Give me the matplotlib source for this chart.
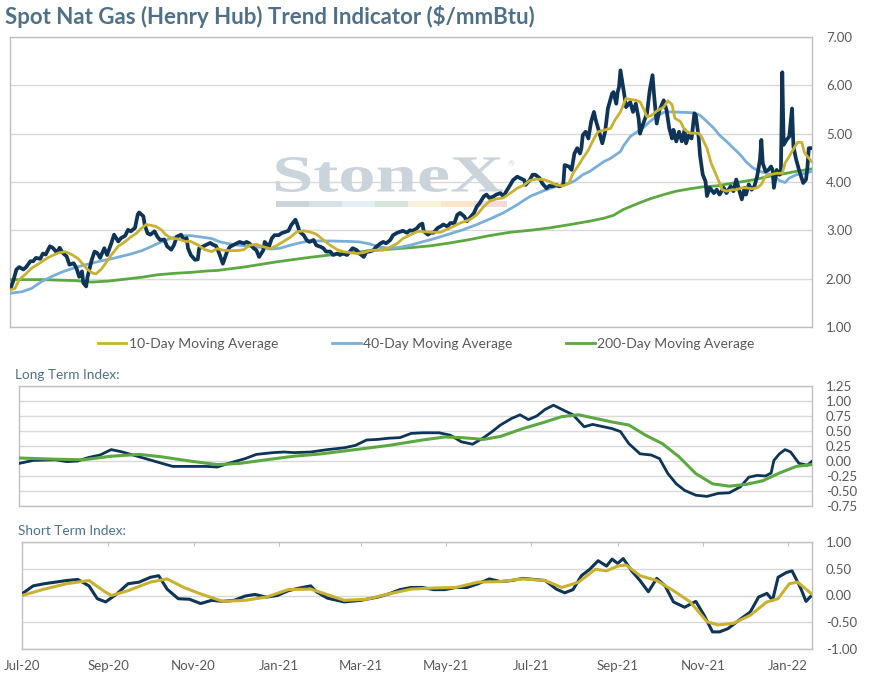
import numpy as np
import matplotlib
matplotlib.use("Agg")
import matplotlib.pyplot as plt
import matplotlib.dates as mdates
from matplotlib.patches import Rectangle, PathPatch
from matplotlib.textpath import TextPath
from matplotlib.font_manager import FontProperties
from matplotlib.transforms import Affine2D

plt.rcParams['font.family'] = ['Lato', 'DejaVu Sans']

# ---- data: x values are days since 2020-07-01 ----
spot_day = [-8, -6, -4, -2, 1, 3, 6, 8, 10, 13, 15, 17, 20, 22, 25, 27, 29, 32, 34, 37, 39, 41, 43, 44, 46, 47,
            50, 52, 54, 56, 59, 61, 64, 66, 69, 71, 74, 76, 78, 81, 83, 84, 87, 88, 90, 92, 95, 97, 99, 102,
            104, 107, 109, 111, 114, 116, 118, 119, 121, 124, 126, 127, 130, 132, 135, 137, 139, 141, 144, 147,
            149, 154, 156, 159, 161, 163, 166, 168, 170, 173, 174, 177, 179, 181, 184, 186, 189, 191, 193, 196,
            197, 199, 202, 204, 206, 209, 211, 214, 216, 218, 221, 223, 226, 228, 230, 233, 235, 237, 240, 242,
            245, 247, 249, 252, 254, 257, 259, 261, 264, 266, 269, 271, 273, 276, 278, 280, 283, 285, 287, 288,
            291, 293, 295, 298, 300, 302, 305, 307, 310, 312, 314, 317, 319, 322, 324, 326, 328, 331, 333, 335,
            338, 340, 343, 345, 347, 350, 352, 355, 357, 360, 361, 364, 366, 368, 371, 373, 376, 378, 380, 383,
            385, 388, 389, 392, 394, 396, 398, 400, 401, 402, 404, 406, 408, 410, 411, 413, 416, 418, 420, 423,
            424, 426, 427, 428, 429, 432, 433, 436, 438, 440, 442, 443, 445, 448, 450, 452, 453, 455, 457, 459,
            460, 462, 464, 466, 467, 469, 471, 473, 475, 476, 478, 480, 482, 483, 485, 486, 488, 490, 491, 493,
            496, 498, 500, 503, 505, 508, 510, 512, 514, 516, 518, 519, 521, 523, 525, 527, 529, 530, 531, 533,
            535, 537, 538, 539, 541, 543, 544, 545, 546, 548, 550, 552, 553, 555, 557, 560, 562, 563, 564, 566]
spot_val = [1.81, 1.98, 2.19, 2.24, 2.19, 2.24, 2.36, 2.36, 2.43, 2.41, 2.52, 2.50, 2.67, 2.64, 2.54, 2.64, 2.54,
            2.46, 2.29, 2.32, 2.22, 2.04, 2.15, 1.91, 1.84, 2.04,
            2.39, 2.56, 2.53, 2.43, 2.63, 2.49, 2.73, 2.91, 2.77, 2.84, 2.89, 3.01, 2.98, 3.05, 3.33, 3.37, 3.29,
            3.11, 2.94, 2.91, 2.98, 2.87, 2.80, 2.81,
            2.67, 2.60, 2.70, 2.87, 2.91, 2.80, 2.84, 2.63, 2.49, 2.39, 2.40, 2.63, 2.67, 2.70, 2.74, 2.70, 2.68,
            2.55, 2.31, 2.56,
            2.66, 2.73, 2.76, 2.73, 2.76, 2.73, 2.63, 2.59, 2.45, 2.59, 2.76, 2.66, 2.83, 2.90, 2.90, 2.94, 2.97,
            2.99, 3.11, 3.22,
            3.15, 2.97, 2.90, 2.80, 2.76, 2.80, 2.69, 2.66, 2.63, 2.56, 2.56, 2.49, 2.52, 2.49, 2.52, 2.49, 2.56,
            2.63, 2.59, 2.52,
            2.45, 2.56, 2.56, 2.59, 2.66, 2.73, 2.76, 2.73, 2.80, 2.90, 2.95, 2.97, 2.99, 2.95, 3.00, 2.99, 3.04,
            3.11, 3.14, 2.98,
            2.91, 2.95, 2.95, 3.05, 3.08, 3.12, 3.08, 3.15, 3.15, 3.32, 3.36, 3.29, 3.19, 3.29, 3.36, 3.49, 3.56,
            3.70, 3.74, 3.67,
            3.70, 3.74, 3.77, 3.70, 3.80, 3.94, 4.04, 4.11, 4.08, 4.04, 3.94, 4.04, 4.15, 4.15, 4.08, 3.97, 3.87,
            3.92, 3.91, 3.94,
            3.91, 3.94, 4.35, 4.32, 4.25, 4.59, 4.70, 4.59, 4.70, 4.97, 5.04, 4.90, 5.25, 5.45, 5.31, 5.11, 4.80,
            5.04, 5.52, 5.83,
            5.86, 5.62, 5.86, 5.97, 6.31, 5.76, 5.55, 5.65, 5.45, 5.62, 5.32, 5.00, 5.18, 5.42, 5.90, 6.21, 5.83,
            5.21, 5.49, 5.62,
            5.69, 5.49, 5.11, 4.90, 5.08, 4.84, 5.04, 4.84, 5.08, 4.80, 4.97, 4.90, 5.42, 5.38, 4.94, 4.56, 4.15,
            4.01, 3.71, 3.88,
            3.77, 3.84, 3.74, 3.88, 3.77, 3.91, 3.81, 4.05, 3.84, 3.64, 3.88, 3.74, 3.95, 3.84, 3.91, 4.12, 4.46,
            4.87, 4.39, 4.22,
            4.25, 4.32, 4.25, 3.88, 4.25, 4.15, 4.18, 6.27, 4.77, 4.87, 4.94, 5.52, 4.73, 4.46, 4.25, 3.98, 4.05,
            4.29, 4.70, 4.70]

ma10_day = [-8, -5, -2, 2, 7, 11, 16, 21, 26, 31, 35, 40, 44, 47, 51, 53, 57, 60, 64, 69, 74, 78, 82, 86, 89,
            93, 96, 100, 103, 107, 112, 117, 121, 126, 131, 136, 140, 144, 149, 154, 159, 163, 168, 173, 178,
            183, 187, 192, 197, 202, 206, 211, 216, 221, 226, 230, 235, 240, 245, 249, 254, 259, 264, 269, 273,
            278, 283, 285, 293, 300, 307, 314, 321, 326, 331, 335, 340, 345, 350, 355, 360, 364, 369, 374, 378,
            383, 388, 392, 395, 399, 402, 406, 410, 413, 417, 422, 425, 429, 433, 436, 440, 443, 446, 448, 451,
            455, 460, 463, 466, 468, 472, 475, 479, 482, 485, 487, 491, 494, 498, 502, 505, 509, 512, 516, 519,
            523, 527, 530, 533, 536, 541, 545, 547, 550, 554, 556, 559, 561, 565, 566]
ma10_val = [1.77, 1.80, 1.98, 2.08, 2.22, 2.29, 2.39, 2.47, 2.53, 2.56, 2.51, 2.42, 2.29, 2.19, 2.11, 2.10, 2.20,
            2.32, 2.49, 2.67, 2.77, 2.86, 2.94, 3.05, 3.12,
            3.10, 3.08, 3.01, 2.91, 2.84, 2.82, 2.77, 2.77, 2.70, 2.60, 2.56, 2.62, 2.59, 2.58, 2.58, 2.60, 2.69,
            2.71, 2.66, 2.62,
            2.69, 2.76, 2.85, 2.97, 2.99, 2.97, 2.92, 2.80, 2.69, 2.60, 2.56, 2.54, 2.52, 2.54, 2.58, 2.59, 2.59,
            2.65, 2.73, 2.83,
            2.90, 2.97, 2.98, 2.96, 2.96, 3.05, 3.15, 3.22, 3.32, 3.49, 3.60, 3.65, 3.67, 3.77, 3.87, 3.94, 4.03,
            4.06, 4.05, 4.01,
            3.94, 3.92, 3.97, 4.18, 4.35, 4.49, 4.66, 4.90, 5.04, 5.07, 5.11, 5.28, 5.45, 5.73, 5.71, 5.69, 5.66,
            5.49, 5.35, 5.37,
            5.47, 5.55, 5.68, 5.60, 5.32, 5.25, 5.08, 5.01, 5.01, 5.01, 4.94, 4.70, 4.39, 4.12, 3.84, 3.81, 3.84,
            3.84, 3.88, 3.88,
            3.86, 3.88, 3.95, 4.12, 4.15, 4.18, 4.18, 4.39, 4.53, 4.73, 4.82, 4.82, 4.60, 4.46, 4.42]

ma40_day = [-8, 0, 7, 14, 21, 28, 35, 43, 50, 57, 64, 71, 78, 86, 93, 100, 107, 114, 121, 129, 136, 142, 149,
            156, 163, 171, 178, 185, 192, 199, 206, 221, 235, 242, 249, 257, 264, 271, 278, 288, 297, 307, 316,
            326, 335, 345, 355, 364, 374, 383, 393, 397, 402, 407, 412, 417, 422, 429, 431, 436, 441, 446, 450,
            455, 460, 465, 476, 482, 486, 491, 496, 500, 505, 510, 515, 519, 524, 529, 534, 539, 543, 547, 550,
            555, 560, 566]
ma40_val = [1.70, 1.73, 1.80, 1.94, 2.04, 2.13, 2.20, 2.27, 2.32, 2.37, 2.41, 2.46, 2.51, 2.58, 2.67, 2.76, 2.84,
            2.89, 2.89, 2.86, 2.83, 2.76, 2.72,
            2.69, 2.67, 2.65, 2.61, 2.63, 2.69, 2.74, 2.78, 2.78, 2.77, 2.76, 2.72, 2.65, 2.63, 2.65, 2.69, 2.77,
            2.84, 2.93, 3.01,
            3.12, 3.23, 3.36, 3.53, 3.70, 3.82, 3.91, 3.98, 4.04, 4.15, 4.22, 4.32, 4.42, 4.49, 4.63, 4.74, 4.94,
            5.04, 5.14, 5.25,
            5.36, 5.44, 5.45, 5.44, 5.43, 5.38, 5.25, 5.11, 4.97, 4.84, 4.70, 4.56, 4.42, 4.29, 4.22, 4.18, 4.12,
            4.03, 3.99, 4.08,
            4.15, 4.17, 4.22]

ma200_day = [-8, 14, 38, 50, 62, 74, 86, 97, 109, 121, 133, 140, 159, 183, 206, 230, 254, 278, 293, 307, 321,
             335, 350, 364, 378, 393, 407, 417, 424, 431, 441, 450, 460, 469, 479, 488, 498, 508, 517, 527, 536,
             546, 555, 566]
ma200_val = [1.98, 1.98, 1.96, 1.93, 1.95, 1.99, 2.03, 2.08, 2.11, 2.13, 2.16, 2.17, 2.24, 2.35, 2.44, 2.52, 2.59,
             2.64, 2.68, 2.74, 2.81,
             2.89, 2.96, 3.00, 3.05, 3.12, 3.19, 3.25, 3.31, 3.43, 3.55, 3.65, 3.74, 3.81, 3.86, 3.90, 3.92, 3.97,
             4.01, 4.06, 4.12,
             4.17, 4.22, 4.27]

lt_day = [-2, 8, 24, 32, 40, 48, 56, 64, 72, 84, 96, 108, 120, 132, 140, 148, 160, 168, 180, 188, 195, 207, 219,
          231, 239, 247, 255, 263, 271, 279, 287, 299, 307, 315, 323, 331, 337, 343, 351, 357, 363, 369, 375, 381,
          387, 395, 403, 409, 415, 423, 429, 435, 443, 451, 457, 463, 469, 475, 483, 491, 499, 507, 515, 521, 527,
          533, 537, 539, 543, 547, 551, 557, 563, 566]
lt_val = [-0.04, 0.01, 0.02, -0.01, 0.00, 0.06, 0.10, 0.19, 0.15, 0.07, -0.01, -0.09, -0.09, -0.09, -0.10, -0.04,
          0.04, 0.11, 0.14, 0.15, 0.14, 0.15, 0.19,
          0.22, 0.26, 0.35, 0.36, 0.38, 0.39, 0.46, 0.47, 0.47, 0.43, 0.32, 0.28, 0.39, 0.49, 0.60, 0.71, 0.77,
          0.69, 0.75, 0.86, 0.93,
          0.86, 0.77, 0.57, 0.61, 0.58, 0.54, 0.49, 0.29, 0.12, 0.10, 0.04, -0.21, -0.38, -0.49, -0.57, -0.59,
          -0.54, -0.53, -0.43, -0.27, -0.24,
          -0.25, -0.20, 0.01, 0.12, 0.19, 0.15, -0.04, -0.07, -0.01]

lt_sig_day = [-2, 24, 44, 64, 84, 100, 120, 140, 156, 175, 195, 215, 239, 263, 287, 303, 315, 331, 343, 359, 375,
              387, 399, 411, 423, 435, 447, 459, 471, 483, 495, 507, 519, 531, 543, 555, 566]
lt_sig_val = [0.05, 0.03, 0.02, 0.08, 0.11, 0.07, 0.00, -0.06, -0.04, 0.02, 0.08, 0.12, 0.19, 0.26, 0.35, 0.40,
              0.39, 0.36, 0.41, 0.54, 0.65,
              0.74, 0.77, 0.71, 0.65, 0.60, 0.43, 0.29, 0.07, -0.21, -0.38, -0.42, -0.39, -0.33, -0.20, -0.09,
              -0.06]

st_day = [0, 8, 16, 24, 32, 40, 48, 54, 60, 68, 76, 84, 92, 98, 104, 112, 120, 128, 136, 144, 152, 160, 167, 175,
          183, 191, 199, 207, 211, 219, 231, 243, 255, 263, 271, 279, 287, 295, 303, 311, 319, 327, 335, 343, 351,
          359, 367, 375, 383, 389, 395, 401, 407, 413, 419, 423, 427, 431, 437, 443, 449, 455, 461, 467, 475, 483,
          489, 495, 500, 506, 514, 522, 528, 534, 538, 542, 548, 552, 558, 562, 566]
st_val = [0.03, 0.18, 0.22, 0.25, 0.28, 0.30, 0.18, -0.06, -0.12, 0.03, 0.22, 0.25, 0.34, 0.37, 0.12, -0.06, -0.07,
          -0.15, -0.09, -0.11, -0.09, -0.01, 0.02, -0.03,
          0.00, 0.09, 0.14, 0.18, 0.07, -0.05, -0.12, -0.09, -0.03, 0.03, 0.11, 0.15, 0.15, 0.11, 0.11, 0.15,
          0.15, 0.22, 0.31, 0.26, 0.28,
          0.32, 0.30, 0.28, 0.12, 0.05, 0.11, 0.37, 0.49, 0.65, 0.55, 0.68, 0.60, 0.69, 0.46, 0.28, 0.07, 0.32,
          0.18, -0.12, -0.22, -0.11,
          -0.37, -0.68, -0.68, -0.62, -0.46, -0.31, -0.03, 0.04, -0.09, 0.34, 0.43, 0.46, 0.15, -0.11, 0.00]

st_sig_day = [0, 16, 32, 48, 60, 64, 76, 92, 104, 116, 128, 144, 160, 175, 191, 207, 215, 231, 247, 263, 279, 295,
              311, 327, 343, 359, 375, 387, 399, 411, 419, 427, 433, 443, 455, 467, 479, 491, 499, 510, 522, 534,
              542, 550, 556, 562, 566]
st_sig_val = [0.00, 0.12, 0.22, 0.28, 0.06, 0.00, 0.09, 0.25, 0.31, 0.15, 0.03, -0.11, -0.09, -0.03, 0.11, 0.12,
              0.05, -0.09, -0.07, 0.03, 0.12, 0.14,
              0.15, 0.25, 0.26, 0.31, 0.28, 0.15, 0.25, 0.49, 0.46, 0.55, 0.57, 0.37, 0.28, 0.09, -0.12, -0.49,
              -0.55, -0.52, -0.37, -0.12,
              -0.06, 0.22, 0.25, 0.12, 0.03]

month_ticks = ['2020-07-01', '2020-09-01', '2020-11-01', '2021-01-01', '2021-03-01', '2021-05-01',
               '2021-07-01', '2021-09-01', '2021-11-01', '2022-01-01']

NAVY = '#0e3458'
GOLD = '#c9b22f'
BLUE = '#7aafd9'
GREEN = '#5ca843'
GRID = '#d9d9d9'
SPINE = '#bfbfbf'
TXT = '#595959'
HEAD = '#4e7189'
MARK = '#cbd3db'

W, H = 871, 681
base = mdates.date2num(np.datetime64('2020-07-01'))
px_per_day = 1.395


def to_dates(days):
    return base + np.asarray(days, dtype=float)


def axes_px(fig, left, top, right, bottom):
    return fig.add_axes([left / W, 1 - bottom / H, (right - left) / W, (bottom - top) / H])


def style(ax, left_px, ylim, yticks):
    ax.set_xlim(base + (left_px - 22) / px_per_day, base + 790 / px_per_day)
    ax.set_ylim(*ylim)
    ax.set_yticks(yticks)
    ax.yaxis.tick_right()
    ax.yaxis.set_major_formatter(matplotlib.ticker.FormatStrFormatter('%.2f'))
    ax.tick_params(axis='y', length=0, pad=10, labelsize=9.5, labelcolor=TXT)
    for lab in ax.get_yticklabels():
        lab.set_horizontalalignment('left')
    ax.grid(axis='y', color=GRID, lw=1.0)
    ax.set_axisbelow(True)
    for s in ax.spines.values():
        s.set_color(SPINE)
        s.set_linewidth(1.0)


fig = plt.figure(figsize=(W / 100, H / 100), dpi=100)

fig.text(5 / W, 1 - 17 / H, "Spot Nat Gas (Henry Hub) Trend Indicator (\\$/mmBtu)", fontsize=16,
         fontweight='bold', color=HEAD, va='center', ha='left')

# ---- top chart ----
ax1 = axes_px(fig, 10, 37, 812, 327)
style(ax1, 10, (1, 7), np.arange(1, 8, 1))
ax1.set_xticks([])

# watermark: word stretched into its box, colour bar below
tp = TextPath((0, 0), "StoneX", size=100, prop=FontProperties(family='Liberation Serif', weight='bold'))
ext = tp.get_extents()
wm = (Affine2D().translate(-ext.x0, -ext.y0)
      .scale((503 - 276) / ext.width / W, (192 - 157) / ext.height / H)
      .translate(276 / W, 1 - 192 / H) + fig.transFigure)
ax1.add_patch(PathPatch(tp, transform=wm, facecolor=MARK, edgecolor='none', zorder=1))
ax1.text(508 / W, 1 - 166 / H, "\u00ae", transform=fig.transFigure, fontsize=6, color=MARK, zorder=1)
bar_cols = ['#cbd3db', '#d7dfe8', '#e3eef5', '#d6e5da', '#f9f2da', '#fbe6cc', '#f5d8d8']
for i, c in enumerate(bar_cols):
    ax1.add_patch(Rectangle(((276 + 33 * i) / W, 1 - 207 / H), 33 / W, 6 / H, transform=fig.transFigure,
                            facecolor=c, edgecolor='none', zorder=1))

ax1.plot(to_dates(ma200_day), ma200_val, color=GREEN, lw=2.0, zorder=3, label='200-Day Moving Average')
ax1.plot(to_dates(ma40_day), ma40_val, color=BLUE, lw=2.0, zorder=4, label='40-Day Moving Average')
ax1.plot(to_dates(spot_day), spot_val, color=NAVY, lw=2.7, zorder=5)
ax1.plot(to_dates(ma10_day), ma10_val, color=GOLD, lw=2.0, zorder=6, label='10-Day Moving Average')

h, l = ax1.get_legend_handles_labels()
order = [2, 1, 0]
ax1.legend([h[i] for i in order], [l[i] for i in order], ncol=3, frameon=False,
           loc='center left', bbox_to_anchor=(88 / 802, -17 / 290), fontsize=10,
           labelcolor=TXT, handlelength=2.05, handletextpad=0.15, columnspacing=3.9,
           borderaxespad=0, borderpad=0)

# ---- long term ----
fig.text(15 / W, 1 - 375 / H, "Long Term Index:", fontsize=9.8, color=HEAD, va='center', ha='left')
ax2 = axes_px(fig, 19, 386, 812, 506)
style(ax2, 19, (-0.75, 1.25), np.arange(-0.75, 1.26, 0.25))
ax2.set_xticks([])
ax2.plot(to_dates(lt_day), lt_val, color=NAVY, lw=2.0, zorder=3)
ax2.plot(to_dates(lt_sig_day), lt_sig_val, color=GREEN, lw=2.2, zorder=4)

# ---- short term ----
fig.text(18 / W, 1 - 531 / H, "Short Term Index:", fontsize=9.8, color=HEAD, va='center', ha='left')
ax3 = axes_px(fig, 22, 542, 812, 649)
style(ax3, 22, (-1, 1), np.arange(-1, 1.01, 0.5))
ax3.plot(to_dates(st_day), st_val, color=NAVY, lw=2.2, zorder=3)
ax3.plot(to_dates(st_sig_day), st_sig_val, color=GOLD, lw=2.2, zorder=4)
ax3.set_xticks(mdates.date2num(np.array(month_ticks, dtype='datetime64[D]')))
ax3.xaxis.set_major_formatter(mdates.DateFormatter('%b-%y'))
ax3.tick_params(axis='x', bottom=False, top=True, direction='in', length=3, color=SPINE,
                labelbottom=True, labelsize=9.5, labelcolor=TXT, pad=8)

fig.savefig('out.png', dpi=100)
